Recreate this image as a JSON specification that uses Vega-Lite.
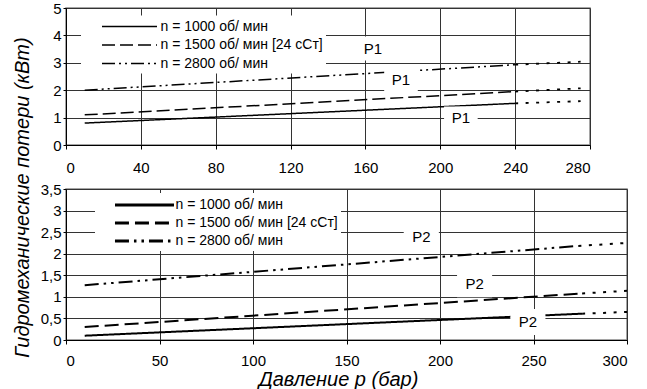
{
  "$schema": "https://vega.github.io/schema/vega-lite/v6.json",
  "padding": {"left": 11, "top": 0, "right": 2, "bottom": 0},
  "background": "white",
  "config": {
    "font": "Liberation Sans",
    "view": {"stroke": "#888888", "strokeWidth": 1.5},
    "axis": {
      "labelFont": "Liberation Sans", "labelFontSize": 15, "labelColor": "black",
      "domainColor": "black", "domainWidth": 1, "tickColor": "black", "tickSize": 4,
      "gridColor": "#333333", "gridOpacity": 1, "gridWidth": 1,
      "titleFont": "Liberation Sans", "titleFontSize": 20, "titleFontStyle": "italic",
      "titleFontWeight": "normal", "titleColor": "black"
    },
    "legend": {
      "labelFont": "Liberation Sans", "labelFontSize": 14, "labelColor": "black",
      "labelLimit": 400, "fillColor": "white",
      "symbolStrokeColor": "black", "orient": "none"
    }
  },
  "spacing": 44,
  "bounds": "flush",
  "resolve": {
    "scale": {"x": "independent", "y": "independent", "strokeDash": "independent"},
    "legend": {"strokeDash": "independent"}
  },
  "vconcat": [
    {
      "width": 524,
      "height": 137,
      "data": {"values": [
        {"p": 10, "v": 0.8, "series": "n = 1000 об/ мин", "part": "main"},
        {"p": 240, "v": 1.52, "series": "n = 1000 об/ мин", "part": "main"},
        {"p": 10, "v": 1.1, "series": "n = 1500 об/ мин [24 сСт]", "part": "main"},
        {"p": 240, "v": 1.95, "series": "n = 1500 об/ мин [24 сСт]", "part": "main"},
        {"p": 10, "v": 2.0, "series": "n = 2800 об/ мин", "part": "main"},
        {"p": 240, "v": 2.93, "series": "n = 2800 об/ мин", "part": "main"},
        {"p": 240, "v": 1.52, "series": "n = 1000 об/ мин", "part": "ext"},
        {"p": 275, "v": 1.6, "series": "n = 1000 об/ мин", "part": "ext"},
        {"p": 240, "v": 1.95, "series": "n = 1500 об/ мин [24 сСт]", "part": "ext"},
        {"p": 275, "v": 2.07, "series": "n = 1500 об/ мин [24 сСт]", "part": "ext"},
        {"p": 240, "v": 2.93, "series": "n = 2800 об/ мин", "part": "ext"},
        {"p": 275, "v": 3.04, "series": "n = 2800 об/ мин", "part": "ext"},
        {"p": 164, "v": 3.52, "label": "P1", "part": "label"},
        {"p": 179, "v": 2.37, "label": "P1", "part": "label"},
        {"p": 211, "v": 0.97, "label": "P1", "part": "label"}
      ]},
      "encoding": {
        "x": {
          "field": "p", "type": "quantitative",
          "scale": {"domain": [0, 280], "nice": false},
          "axis": {"values": [0, 40, 80, 120, 160, 200, 240, 280], "title": null, "labelPadding": 11, "grid": true}
        },
        "y": {
          "field": "v", "type": "quantitative",
          "scale": {"domain": [0, 5], "nice": false},
          "axis": {
            "values": [0, 1, 2, 3, 4, 5], "grid": true, "tickSize": 3, "labelPadding": 2,
            "title": "Гидромеханические потери (кВт)",
            "titleX": -44, "titleY": 189, "titleAlign": "center", "titleBaseline": "middle", "titleAngle": 270
          }
        }
      },
      "layer": [
        {
          "transform": [{"filter": "datum.part == 'main'"}],
          "mark": {"type": "line", "color": "black", "strokeWidth": 1.5},
          "encoding": {
            "strokeDash": {
              "field": "series", "type": "nominal",
              "scale": {
                "domain": ["n = 1000 об/ мин", "n = 1500 об/ мин [24 сСт]", "n = 2800 об/ мин"],
                "range": [[1, 0], [13, 5], [13, 4, 2, 4, 2, 4]]
              },
              "legend": {
                "title": null, "legendX": 15, "legendY": 7.5, "padding": 3,
                "symbolType": "M-4,0H4", "symbolSize": 189, "symbolStrokeWidth": 1.6,
                "symbolOffset": 37.5, "labelOffset": 23, "rowPadding": 3.5
              }
            }
          }
        },
        {
          "transform": [{"filter": "datum.part == 'ext'"}],
          "mark": {"type": "line", "color": "black", "strokeWidth": 1.8, "strokeDash": [3, 7.5]},
          "encoding": {"detail": {"field": "series", "type": "nominal"}}
        },
        {
          "transform": [{"filter": "datum.part == 'label'"}],
          "mark": {"type": "point", "shape": "M-1.4,-1L1.4,-1L1.4,1L-1.4,1Z", "size": 576, "filled": true, "color": "white", "opacity": 1, "strokeWidth": 0},
          "encoding": {}
        },
        {
          "transform": [{"filter": "datum.part == 'label'"}],
          "mark": {"type": "text", "font": "Liberation Sans", "fontSize": 15, "color": "black", "align": "center", "baseline": "middle"},
          "encoding": {"text": {"field": "label", "type": "nominal"}}
        }
      ]
    },
    {
      "width": 561,
      "height": 151,
      "data": {"values": [
        {"p": 10, "v": 0.1, "series": "n = 1000 об/ мин", "part": "main"},
        {"p": 276, "v": 0.61, "series": "n = 1000 об/ мин", "part": "main"},
        {"p": 10, "v": 0.3, "series": "n = 1500 об/ мин [24 сСт]", "part": "main"},
        {"p": 276, "v": 1.08, "series": "n = 1500 об/ мин [24 сСт]", "part": "main"},
        {"p": 10, "v": 1.27, "series": "n = 2800 об/ мин", "part": "main"},
        {"p": 274, "v": 2.18, "series": "n = 2800 об/ мин", "part": "main"},
        {"p": 276, "v": 0.61, "series": "n = 1000 об/ мин", "part": "ext"},
        {"p": 300, "v": 0.65, "series": "n = 1000 об/ мин", "part": "ext"},
        {"p": 276, "v": 1.08, "series": "n = 1500 об/ мин [24 сСт]", "part": "ext"},
        {"p": 300, "v": 1.14, "series": "n = 1500 об/ мин [24 сСт]", "part": "ext"},
        {"p": 274, "v": 2.18, "series": "n = 2800 об/ мин", "part": "ext"},
        {"p": 300, "v": 2.25, "series": "n = 2800 об/ мин", "part": "ext"},
        {"p": 190, "v": 2.39, "label": "P2", "part": "label"},
        {"p": 218.5, "v": 1.29, "label": "P2", "part": "label"},
        {"p": 247, "v": 0.42, "label": "P2", "part": "label"}
      ]},
      "encoding": {
        "x": {
          "field": "p", "type": "quantitative",
          "scale": {"domain": [0, 300], "nice": false},
          "axis": {
            "values": [0, 50, 100, 150, 200, 250, 300], "grid": true, "labelPadding": 9,
            "title": "Давление p (бар)", "titleX": 272, "titleY": 45, "titleAlign": "center", "titleBaseline": "alphabetic"
          }
        },
        "y": {
          "field": "v", "type": "quantitative",
          "scale": {"domain": [0, 3.5], "nice": false},
          "axis": {
            "values": [0, 0.5, 1, 1.5, 2, 2.5, 3, 3.5], "grid": true, "tickSize": 3, "labelPadding": 2,
            "title": null, "labelExpr": "replace(toString(datum.value), '.', ',')"
          }
        }
      },
      "layer": [
        {
          "transform": [{"filter": "datum.part == 'main'"}],
          "mark": {"type": "line", "color": "black", "strokeWidth": 2},
          "encoding": {
            "strokeDash": {
              "field": "series", "type": "nominal",
              "scale": {
                "domain": ["n = 1000 об/ мин", "n = 1500 об/ мин [24 сСт]", "n = 2800 об/ мин"],
                "range": [[1, 0], [14, 6], [14, 5, 2.5, 5, 2.5, 5]]
              },
              "legend": {
                "title": null, "legendX": 29, "legendY": 4, "padding": 3,
                "symbolType": "M-4,0H4", "symbolSize": 218, "symbolStrokeWidth": 3,
                "symbolOffset": 37.5, "labelOffset": 22, "rowPadding": 2
              }
            }
          }
        },
        {
          "transform": [{"filter": "datum.part == 'ext'"}],
          "mark": {"type": "line", "color": "black", "strokeWidth": 2, "strokeDash": [3, 7.5]},
          "encoding": {"detail": {"field": "series", "type": "nominal"}}
        },
        {
          "transform": [{"filter": "datum.part == 'label'"}],
          "mark": {"type": "point", "shape": "M-1.35,-1L1.35,-1L1.35,1L-1.35,1Z", "size": 676, "filled": true, "color": "white", "opacity": 1, "strokeWidth": 0},
          "encoding": {}
        },
        {
          "transform": [{"filter": "datum.part == 'label'"}],
          "mark": {"type": "text", "font": "Liberation Sans", "fontSize": 15, "color": "black", "align": "center", "baseline": "middle"},
          "encoding": {"text": {"field": "label", "type": "nominal"}}
        }
      ]
    }
  ]
}
